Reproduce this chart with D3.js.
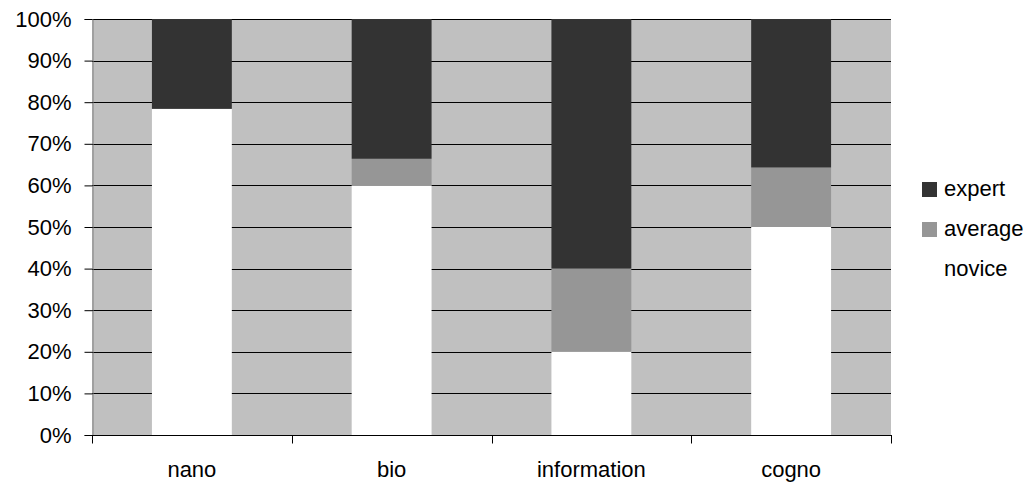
<!DOCTYPE html>
<html>
<head>
<meta charset="utf-8">
<script src="https://cdn.jsdelivr.net/npm/d3@7"></script>
<style>
  html, body { margin: 0; padding: 0; background: #fff; }
  svg { display: block; font-family: "Liberation Sans", Arial, sans-serif; }
</style>
</head>
<body>
<svg id="chart" width="1035" height="486"></svg>
<script>
const categories = ["nano", "bio", "information", "cogno"];
const novice  = [78.4, 60.0, 20.0, 50.0];
const average = [0.0, 6.4, 20.0, 14.3];
const expert  = [21.6, 33.6, 60.0, 35.7];
const seriesNames = ["novice", "average", "expert"];
const legendOrder = ["expert", "average", "novice"];
const yTicks = [0, 10, 20, 30, 40, 50, 60, 70, 80, 90, 100];

const colors = { novice: "#ffffff", average: "#969696", expert: "#333333" };

const svg = d3.select("#chart");
const pLeft = 92, pRight = 891, pTop = 19, pBottom = 435;

const rows = categories.map((c, i) => ({ cat: c, novice: novice[i], average: average[i], expert: expert[i] }));
const stack = d3.stack().keys(seriesNames)(rows);

const x = d3.scaleBand().domain(categories).range([pLeft, pRight]).paddingInner(0).paddingOuter(0);
const y = d3.scaleLinear().domain([0, 100]).range([pBottom, pTop]);
const barW = x.bandwidth() * 0.4;

// plot background
svg.append("rect").attr("x", pLeft).attr("y", pTop).attr("width", pRight - pLeft).attr("height", pBottom - pTop).attr("fill", "#c0c0c0");

// gridlines
svg.append("g").selectAll("line").data(yTicks.filter(d => d > 0)).join("line")
  .attr("x1", pLeft).attr("x2", pRight)
  .attr("y1", d => Math.round(y(d)) + 0.5).attr("y2", d => Math.round(y(d)) + 0.5)
  .attr("stroke", "#000").attr("stroke-width", 1);

// bars
svg.append("g").selectAll("g").data(stack).join("g")
  .attr("fill", d => colors[d.key])
  .selectAll("rect").data(d => d).join("rect")
  .attr("x", d => x(d.data.cat) + (x.bandwidth() - barW) / 2)
  .attr("width", barW)
  .attr("y", d => y(d[1]))
  .attr("height", d => y(d[0]) - y(d[1]));

// y axis
const yAxis = d3.axisLeft(y).tickValues(yTicks).tickFormat(d => d + "%").tickSize(8).tickPadding(13);
const gy = svg.append("g").attr("transform", `translate(${pLeft + 0.5},0)`).call(yAxis);
gy.select(".domain").attr("stroke", "#808080");
gy.selectAll(".tick line").attr("stroke", "#000");
gy.selectAll("text").attr("font-size", "22px").attr("fill", "#000")
  .attr("font-family", "'Liberation Sans', Arial, sans-serif");

// x axis
const gx = svg.append("g").attr("transform", `translate(0,${pBottom + 0.5})`);
gx.append("line").attr("x1", pLeft).attr("x2", pRight + 1).attr("y1", 0).attr("y2", 0).attr("stroke", "#000");
const bounds = categories.map(c => x(c)).concat([pRight]);
gx.selectAll("line.tk").data(bounds).join("line").attr("class", "tk")
  .attr("x1", d => Math.round(d) + 0.5).attr("x2", d => Math.round(d) + 0.5)
  .attr("y1", 0).attr("y2", 8).attr("stroke", "#000");
gx.selectAll("text").data(categories).join("text")
  .attr("x", d => x(d) + x.bandwidth() / 2)
  .attr("y", 41)
  .attr("text-anchor", "middle")
  .attr("font-size", "22px")
  .attr("fill", "#000")
  .text(d => d);

// legend
const lg = svg.append("g");
legendOrder.forEach((k, i) => {
  const by = 196 + i * 40;
  lg.append("rect").attr("x", 922).attr("y", by - 14).attr("width", 15).attr("height", 15).attr("fill", colors[k]);
  lg.append("text").attr("x", 944).attr("y", by).attr("font-size", "22px").attr("fill", "#000").text(k);
});
</script>
</body>
</html>
